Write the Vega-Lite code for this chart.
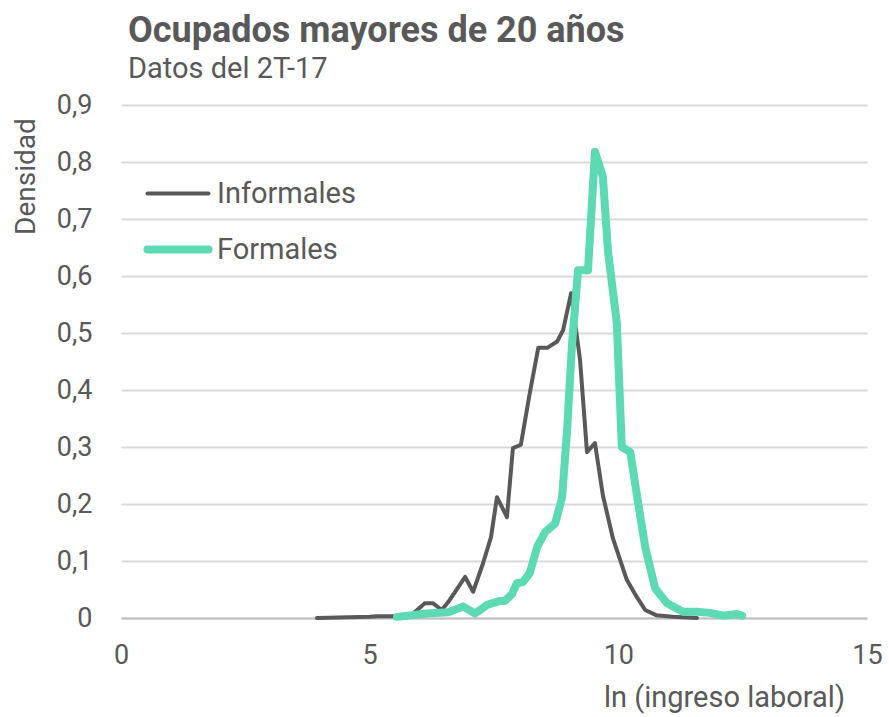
{
  "$schema": "https://vega.github.io/schema/vega-lite/v6.json",
  "width": 746,
  "height": 513,
  "autosize": {"type": "none"},
  "padding": {"left": 121, "top": 105, "right": 22, "bottom": 99},
  "background": "white",
  "title": {
    "text": "Ocupados mayores de 20 años",
    "subtitle": "Datos del 2T-17",
    "anchor": "start",
    "frame": "group",
    "font": "Roboto",
    "fontSize": 36,
    "fontWeight": "bold",
    "color": "#595959",
    "subtitleFont": "Roboto",
    "subtitleFontSize": 29,
    "subtitleColor": "#595959",
    "subtitlePadding": 5,
    "offset": 6,
    "dx": 7
  },
  "config": {"view": {"stroke": null}, "font": "Roboto"},
  "data": {
    "values": [
      {"serie": "Informales", "x": 3.94, "y": 0},
      {"serie": "Informales", "x": 5.01, "y": 0.002},
      {"serie": "Informales", "x": 5.15, "y": 0.003},
      {"serie": "Informales", "x": 5.81, "y": 0.003},
      {"serie": "Informales", "x": 6.11, "y": 0.026},
      {"serie": "Informales", "x": 6.27, "y": 0.026},
      {"serie": "Informales", "x": 6.45, "y": 0.014},
      {"serie": "Informales", "x": 6.58, "y": 0.028},
      {"serie": "Informales", "x": 6.92, "y": 0.072},
      {"serie": "Informales", "x": 7.08, "y": 0.046},
      {"serie": "Informales", "x": 7.28, "y": 0.096},
      {"serie": "Informales", "x": 7.44, "y": 0.142},
      {"serie": "Informales", "x": 7.56, "y": 0.212},
      {"serie": "Informales", "x": 7.76, "y": 0.177},
      {"serie": "Informales", "x": 7.88, "y": 0.298},
      {"serie": "Informales", "x": 8.04, "y": 0.304},
      {"serie": "Informales", "x": 8.22, "y": 0.395},
      {"serie": "Informales", "x": 8.39, "y": 0.474},
      {"serie": "Informales", "x": 8.57, "y": 0.474},
      {"serie": "Informales", "x": 8.77, "y": 0.485},
      {"serie": "Informales", "x": 8.89, "y": 0.505},
      {"serie": "Informales", "x": 9.05, "y": 0.57},
      {"serie": "Informales", "x": 9.23, "y": 0.453},
      {"serie": "Informales", "x": 9.37, "y": 0.291},
      {"serie": "Informales", "x": 9.53, "y": 0.307},
      {"serie": "Informales", "x": 9.69, "y": 0.215},
      {"serie": "Informales", "x": 9.89, "y": 0.14},
      {"serie": "Informales", "x": 10.17, "y": 0.067},
      {"serie": "Informales", "x": 10.37, "y": 0.037},
      {"serie": "Informales", "x": 10.54, "y": 0.014},
      {"serie": "Informales", "x": 10.76, "y": 0.005},
      {"serie": "Informales", "x": 11.1, "y": 0.002},
      {"serie": "Informales", "x": 11.58, "y": 0},
      {"serie": "Formales", "x": 5.55, "y": 0.002},
      {"serie": "Formales", "x": 6.15, "y": 0.008},
      {"serie": "Formales", "x": 6.58, "y": 0.01},
      {"serie": "Formales", "x": 6.88, "y": 0.02},
      {"serie": "Formales", "x": 7.12, "y": 0.008},
      {"serie": "Formales", "x": 7.36, "y": 0.023},
      {"serie": "Formales", "x": 7.62, "y": 0.03},
      {"serie": "Formales", "x": 7.72, "y": 0.03},
      {"serie": "Formales", "x": 7.86, "y": 0.042},
      {"serie": "Formales", "x": 7.96, "y": 0.061},
      {"serie": "Formales", "x": 8.08, "y": 0.063},
      {"serie": "Formales", "x": 8.22, "y": 0.079},
      {"serie": "Formales", "x": 8.37, "y": 0.125},
      {"serie": "Formales", "x": 8.53, "y": 0.151},
      {"serie": "Formales", "x": 8.73, "y": 0.166},
      {"serie": "Formales", "x": 8.87, "y": 0.212},
      {"serie": "Formales", "x": 8.97, "y": 0.33},
      {"serie": "Formales", "x": 9.07, "y": 0.482},
      {"serie": "Formales", "x": 9.19, "y": 0.61},
      {"serie": "Formales", "x": 9.39, "y": 0.61},
      {"serie": "Formales", "x": 9.53, "y": 0.818},
      {"serie": "Formales", "x": 9.69, "y": 0.774},
      {"serie": "Formales", "x": 9.79, "y": 0.645},
      {"serie": "Formales", "x": 9.97, "y": 0.517},
      {"serie": "Formales", "x": 10.07, "y": 0.3},
      {"serie": "Formales", "x": 10.24, "y": 0.291},
      {"serie": "Formales", "x": 10.38, "y": 0.212},
      {"serie": "Formales", "x": 10.54, "y": 0.125},
      {"serie": "Formales", "x": 10.74, "y": 0.052},
      {"serie": "Formales", "x": 10.98, "y": 0.026},
      {"serie": "Formales", "x": 11.3, "y": 0.011},
      {"serie": "Formales", "x": 11.58, "y": 0.011},
      {"serie": "Formales", "x": 11.84, "y": 0.009},
      {"serie": "Formales", "x": 12.11, "y": 0.004},
      {"serie": "Formales", "x": 12.39, "y": 0.007},
      {"serie": "Formales", "x": 12.49, "y": 0.004}
    ]
  },
  "mark": {"type": "line", "strokeJoin": "round", "strokeCap": "round"},
  "encoding": {
    "x": {
      "field": "x",
      "type": "quantitative",
      "scale": {"domain": [0, 15], "nice": false, "zero": false},
      "axis": {
        "values": [0, 5, 10, 15],
        "grid": false,
        "ticks": false,
        "domain": true,
        "domainColor": "#BFBFBF",
        "domainWidth": 2,
        "labelFont": "Roboto",
        "labelFontSize": 27,
        "labelColor": "#595959",
        "labelPadding": 24,
        "labelFlush": false,
        "title": "ln (ingreso laboral)",
        "titleFont": "Roboto",
        "titleFontSize": 29,
        "titleFontWeight": "normal",
        "titleColor": "#595959",
        "titleX": 603,
        "titleY": 79,
        "titleAlign": "center",
        "titleBaseline": "middle"
      }
    },
    "y": {
      "field": "y",
      "type": "quantitative",
      "scale": {"domain": [0, 0.9], "nice": false},
      "axis": {
        "values": [0, 0.1, 0.2, 0.3, 0.4, 0.5, 0.6, 0.7, 0.8, 0.9],
        "labelExpr": "datum.value == 0 ? '0' : replace(format(datum.value, '.1f'), '.', ',')",
        "grid": true,
        "gridColor": "#D9D9D9",
        "gridWidth": 2,
        "ticks": false,
        "domain": false,
        "labelFont": "Roboto",
        "labelFontSize": 27,
        "labelColor": "#595959",
        "labelPadding": 29,
        "title": "Densidad",
        "titleFont": "Roboto",
        "titleFontSize": 28,
        "titleFontWeight": "normal",
        "titleColor": "#595959",
        "titleAngle": -90,
        "titleX": -95,
        "titleY": 71,
        "titleAlign": "center",
        "titleBaseline": "middle"
      }
    },
    "color": {
      "field": "serie",
      "type": "nominal",
      "scale": {"domain": ["Informales", "Formales"], "range": ["#595959", "#5DD9B4"]},
      "legend": {
        "title": null,
        "orient": "none",
        "legendX": 36.5,
        "legendY": 70,
        "padding": 0,
        "symbolType": "M-1.85,0H1.85",
        "symbolSize": 1089,
        "labelFont": "Roboto",
        "labelFontSize": 29,
        "labelColor": "#595959",
        "labelOffset": 18.5,
        "rowPadding": 20,
        "labelLimit": 300,
        "symbolFillColor": "transparent",
        "encode": {"symbols": {"update": {"strokeCap": {"value": "round"}}}}
      }
    },
    "strokeWidth": {
      "field": "serie",
      "type": "nominal",
      "scale": {"domain": ["Informales", "Formales"], "range": [4, 8]},
      "legend": {
        "title": null,
        "orient": "none",
        "legendX": 36.5,
        "legendY": 70,
        "padding": 0,
        "symbolType": "M-1.85,0H1.85",
        "symbolSize": 1089,
        "labelFont": "Roboto",
        "labelFontSize": 29,
        "labelColor": "#595959",
        "labelOffset": 18.5,
        "rowPadding": 20,
        "labelLimit": 300,
        "symbolFillColor": "transparent",
        "encode": {"symbols": {"update": {"strokeCap": {"value": "round"}}}}
      }
    }
  }
}
